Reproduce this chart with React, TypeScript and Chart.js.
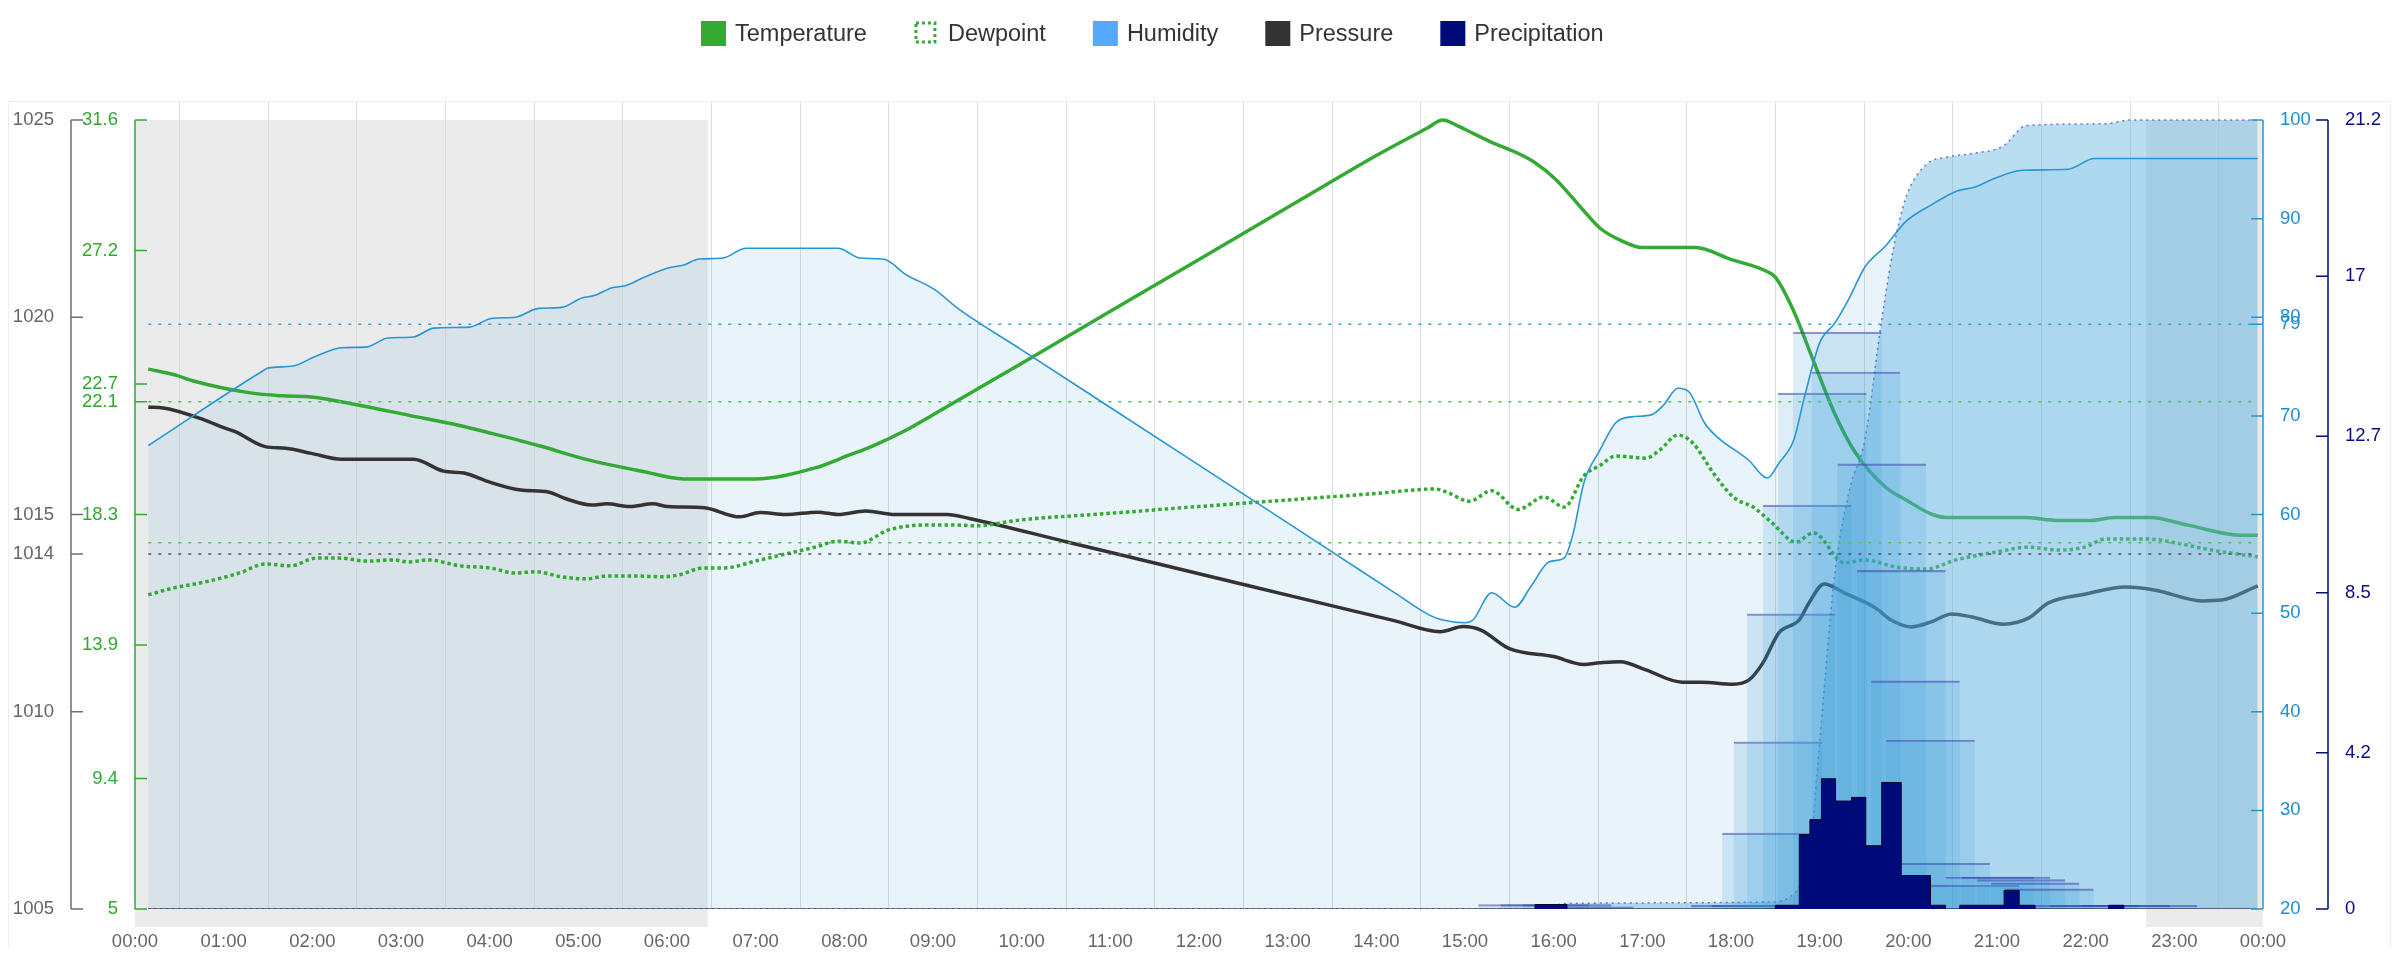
import { useEffect, useRef } from "react"
import { Chart, registerables } from "chart.js"

Chart.register(...registerables)

const FONT = '"Liberation Sans", Arial, Helvetica, sans-serif'
Chart.defaults.font.family = FONT

// every series is [hour of day, value]
const temperature = [
  [0.15, 23.2], [0.46, 23.0], [0.66, 22.8], [1.3, 22.4], [1.67, 22.3], [1.99, 22.26], [2.5, 22.0],
  [3.08, 21.65], [3.66, 21.3], [4.0, 21.05], [4.58, 20.6], [5.1, 20.15], [5.73, 19.75], [6.19, 19.5],
  [6.99, 19.5], [7.67, 19.87], [8.05, 20.3], [8.31, 20.6], [8.7, 21.15], [9.02, 21.7], [10.06, 23.5],
  [11.0, 25.15], [12.0, 26.9], [13.14, 28.9], [14.01, 30.42], [14.57, 31.32], [14.75, 31.6], [14.9, 31.43],
  [15.09, 31.15], [15.32, 30.82], [15.58, 30.5], [15.77, 30.2], [16.03, 29.58], [16.33, 28.57], [16.52, 27.96],
  [16.75, 27.55], [17.0, 27.3], [17.6, 27.3], [18.0, 26.9], [18.4, 26.5], [18.5, 26.3], [18.7, 25.2],
  [18.94, 23.4], [19.17, 21.7], [19.4, 20.4], [19.75, 19.2], [19.97, 18.8], [20.27, 18.3], [20.43, 18.2],
  [21.3, 18.2], [21.7, 18.1], [22.05, 18.1], [22.33, 18.2], [22.73, 18.2], [23.14, 17.95], [23.77, 17.6],
  [23.94, 17.6],
]

const dewpoint = [
  [0.15, 15.59], [0.43, 15.82], [0.78, 16.02], [1.18, 16.33], [1.47, 16.63], [1.76, 16.57], [2.04, 16.83],
  [2.3, 16.83], [2.62, 16.73], [2.91, 16.77], [3.08, 16.7], [3.31, 16.77], [3.66, 16.57], [4.0, 16.5],
  [4.29, 16.33], [4.52, 16.37], [4.81, 16.2], [5.1, 16.13], [5.32, 16.23], [5.61, 16.23], [5.95, 16.2],
  [6.13, 16.26], [6.42, 16.5], [6.65, 16.5], [7.02, 16.75], [7.34, 16.97], [7.67, 17.2], [7.93, 17.4],
  [8.18, 17.34], [8.5, 17.78], [8.96, 17.95], [9.22, 17.95], [9.48, 17.92], [10.0, 18.12], [11.0, 18.34],
  [12.0, 18.57], [13.0, 18.79], [14.0, 19.01], [14.66, 19.16], [14.79, 19.06], [15.05, 18.75], [15.3, 19.1],
  [15.6, 18.47], [15.89, 18.89], [16.12, 18.55], [16.34, 19.6], [16.52, 19.95], [16.7, 20.27], [17.04, 20.2],
  [17.2, 20.48], [17.4, 20.98], [17.57, 20.71], [17.8, 19.7], [18.04, 18.85], [18.25, 18.55], [18.47, 18.0],
  [18.73, 17.37], [18.93, 17.68], [19.28, 16.67], [19.51, 16.77], [19.86, 16.53], [20.2, 16.46], [20.54, 16.77],
  [21.0, 17.04], [21.36, 17.2], [21.7, 17.1], [21.99, 17.2], [22.22, 17.47], [22.73, 17.47], [23.02, 17.34],
  [23.42, 17.1], [23.94, 16.87],
]

const pressure = [
  [0.15, 1017.72], [0.32, 1017.7], [0.78, 1017.4], [1.0, 1017.2], [1.13, 1017.1], [1.47, 1016.72],
  [1.7, 1016.68], [1.99, 1016.55], [2.33, 1016.4], [3.14, 1016.4], [3.48, 1016.1], [3.71, 1016.05],
  [4.0, 1015.82], [4.35, 1015.62], [4.66, 1015.57], [4.86, 1015.4], [5.15, 1015.24], [5.32, 1015.27],
  [5.58, 1015.2], [5.84, 1015.27], [6.01, 1015.2], [6.42, 1015.17], [6.82, 1014.94], [7.05, 1015.05],
  [7.34, 1015.0], [7.7, 1015.06], [7.93, 1015.0], [8.24, 1015.09], [8.57, 1015.0], [9.16, 1015.0],
  [9.41, 1014.9], [10.5, 1014.31], [12.0, 1013.5], [13.14, 1012.88], [14.2, 1012.31], [14.72, 1012.03],
  [14.98, 1012.16], [15.18, 1012.07], [15.5, 1011.6], [16.0, 1011.4], [16.34, 1011.2], [16.52, 1011.24],
  [16.75, 1011.27], [17.04, 1011.06], [17.45, 1010.75], [17.67, 1010.75], [18.02, 1010.7], [18.2, 1010.8],
  [18.36, 1011.24], [18.54, 1012.0], [18.77, 1012.33], [18.88, 1012.76], [19.05, 1013.24], [19.29, 1013.0],
  [19.63, 1012.63], [19.8, 1012.33], [20.03, 1012.15], [20.26, 1012.28], [20.49, 1012.48], [20.72, 1012.4],
  [21.07, 1012.22], [21.36, 1012.38], [21.58, 1012.76], [21.99, 1012.98], [22.45, 1013.16], [22.79, 1013.08],
  [23.31, 1012.81], [23.53, 1012.83], [23.94, 1013.19],
]

const humidity = [
  [0.15, 67.0], [1.45, 74.6], [1.5, 74.85], [1.78, 75.05], [2.02, 75.97], [2.33, 76.9], [2.62, 77.0],
  [2.85, 77.9], [3.14, 78.0], [3.37, 78.9], [3.77, 79.0], [4.03, 79.9], [4.29, 80.0], [4.55, 80.9],
  [4.81, 81.0], [5.04, 81.95], [5.18, 82.2], [5.38, 83.0], [5.53, 83.2], [5.73, 84.0], [6.01, 85.0],
  [6.19, 85.3], [6.36, 85.9], [6.63, 86.0], [6.89, 87.0], [7.93, 87.0], [8.18, 86.0], [8.44, 85.9],
  [8.7, 84.3], [9.02, 82.8], [9.28, 80.9], [10.0, 76.7], [11.0, 70.85], [12.0, 65.0], [13.0, 59.15],
  [13.63, 55.45], [14.2, 52.1], [14.6, 49.8], [14.75, 49.3], [15.0, 49.03], [15.09, 49.3], [15.3, 52.07],
  [15.56, 50.6], [15.75, 52.8], [15.95, 55.2], [16.12, 55.6], [16.22, 58.1], [16.34, 63.2], [16.52, 66.5],
  [16.7, 69.3], [16.87, 69.9], [17.1, 70.1], [17.24, 71.1], [17.4, 72.8], [17.53, 72.4], [17.7, 69.3],
  [17.84, 67.9], [18.2, 65.5], [18.41, 63.7], [18.54, 65.2], [18.71, 67.6], [18.82, 71.6], [19.0, 77.4],
  [19.17, 79.4], [19.34, 82.05], [19.51, 85.1], [19.75, 87.3], [19.97, 89.7], [20.26, 91.4], [20.55, 92.8],
  [20.75, 93.2], [20.95, 94.0], [21.29, 94.9], [21.8, 95.0], [22.1, 96.1], [23.94, 96.1],
]

// rain per interval, each value holds until the next time
const precipitation = [
  [0.15, 0], [15.79, 0.12], [16.15, 0], [18.5, 0.1], [18.77, 2.0], [18.89, 2.4], [19.02, 3.5],
  [19.18, 2.9], [19.36, 3.0], [19.52, 1.7], [19.7, 3.4], [19.92, 0.9], [20.25, 0.1], [20.42, 0],
  [20.58, 0.1], [20.75, 0.1], [20.92, 0.1], [21.08, 0.5], [21.25, 0.1], [21.43, 0], [22.26, 0.1],
  [22.43, 0], [23.94, 0],
]

const precipitationTotal = [
  [0.15, 0], [15.8, 0], [16.15, 0.15], [18.47, 0.19], [18.65, 0.3], [18.77, 0.6], [18.88, 1.3],
  [19.0, 4.5], [19.17, 9.0], [19.34, 11.3], [19.51, 12.6], [19.68, 15.5], [19.82, 17.6], [19.97, 19.1],
  [20.2, 20.0], [20.43, 20.2], [20.72, 20.3], [21.07, 20.5], [21.33, 21.05], [22.22, 21.1], [22.5, 21.2],
  [23.94, 21.2],
]

// rain over the hour starting at the given time
const precipitationHour = [
  [15.15, 0.12], [15.4, 0.12], [15.65, 0.12], [15.9, 0.06], [17.55, 0.1], [17.78, 0.1], [17.9, 2.04],
  [18.03, 4.49], [18.18, 7.93], [18.36, 10.85], [18.53, 13.86], [18.7, 15.5], [18.91, 14.43], [19.2, 11.96],
  [19.42, 9.1], [19.58, 6.13], [19.75, 4.54], [19.92, 1.23], [20.25, 0.64], [20.42, 0.86], [20.6, 0.86],
  [20.77, 0.79], [20.93, 0.7], [21.09, 0.54], [21.26, 0.1], [21.6, 0.1], [21.95, 0.1], [22.26, 0.1],
]

const nightStart = [0, 22.68]
const nightEnd = [6.46, 24]

const temperatureMean = 22.1
const dewpointMean = 17.35
const pressureMean = 1014
const humidityMean = 79.3

const temperatureTicks = [5, 9.4, 13.9, 18.3, 22.7, 27.2, 31.6]
const pressureTicks = [1005, 1010, 1015, 1020, 1025]
const humidityTicks = [20, 30, 40, 50, 60, 70, 80, 90, 100]
const precipitationTicks = [0, 4.2, 8.5, 12.7, 17, 21.2]
const hourTicks = Array.from({ length: 25 }, (_, i) => i)

const legendLabels = ["Temperature", "Dewpoint", "Humidity", "Pressure", "Precipitation"]

const GREEN = "#33aa33"
const HUMID = "#2896d2"
const NAVY = "#000a78"
const HEADROOM = 18 / 789

const toPoints = (rows: number[][]) => rows.map(([x, y]) => ({ x, y }))
const span = (rows: number[][], y: number) => [
  { x: rows[0][0], y },
  { x: rows[rows.length - 1][0], y },
]

function valueAxis(o: any) {
  const all = [...o.ticks, ...(o.extra || [])].sort((a, b) => a - b)
  const lo = o.ticks[0]
  const hi = o.ticks[o.ticks.length - 1]
  return {
    type: "linear",
    position: o.position,
    weight: o.weight,
    bounds: "data",
    min: lo,
    max: hi + (hi - lo) * HEADROOM,
    afterFit: (s: any) => {
      s.width = o.width
    },
    afterBuildTicks: (s: any) => {
      s.ticks = all.map((value) => ({ value }))
    },
    grid: { display: false },
    border: { display: false },
    ticks: {
      autoSkip: false,
      color: o.color,
      padding: 9,
      font: { size: 18.5 },
      callback: o.format || ((v: number) => String(v)),
    },
  }
}

// grey night bands and the faint frame, under everything
const nightPlugin = {
  id: "night",
  beforeDraw(chart: any) {
    const { ctx, chartArea, scales } = chart
    const top = scales.temp.getPixelForValue(temperatureTicks[temperatureTicks.length - 1])
    const bottom = chartArea.bottom + 18
    ctx.save()
    ctx.strokeStyle = "#efefef"
    ctx.lineWidth = 1
    ctx.strokeRect(0.5, chartArea.top - 0.5, chart.width - 2, chart.height)
    ctx.fillStyle = "#ebebeb"
    nightStart.forEach((s, i) => {
      const x0 = scales.x.getPixelForValue(s)
      const x1 = scales.x.getPixelForValue(nightEnd[i])
      ctx.fillRect(x0, top, x1 - x0, bottom - top)
    })
    ctx.restore()
  },
}

// axis lines with inside tick marks
const axisStyles = [
  { id: "pressure", color: "#6e6e6e", dir: 1 },
  { id: "temp", color: GREEN, dir: 1 },
  { id: "humidity", color: HUMID, dir: -1 },
  { id: "precip", color: NAVY, dir: -1 },
]

const axisPlugin = {
  id: "axisLines",
  afterDatasetsDraw(chart: any) {
    const { ctx } = chart
    ctx.save()
    ctx.lineWidth = 1.5
    axisStyles.forEach((a) => {
      const s = chart.scales[a.id]
      const x = a.dir > 0 ? s.right : s.left
      const ys = s.ticks.map((t: any) => s.getPixelForValue(t.value))
      ctx.strokeStyle = a.color
      ctx.beginPath()
      ctx.moveTo(x, Math.min(...ys))
      ctx.lineTo(x, Math.max(...ys))
      ys.forEach((y: number) => {
        ctx.moveTo(x, y)
        ctx.lineTo(x + a.dir * 12, y)
      })
      ctx.stroke()
    })
    ctx.restore()
  },
}

const legendSwatches = [
  { fill: GREEN },
  { stroke: GREEN },
  { fill: "#55aaff" },
  { fill: "#333333" },
  { fill: NAVY },
]

const legendPlugin = {
  id: "topLegend",
  afterDraw(chart: any) {
    const { ctx } = chart
    const box = 25
    const gap = 9
    const spacing = 47
    ctx.save()
    ctx.font = `23.5px ${FONT}`
    ctx.textBaseline = "middle"
    const widths = legendLabels.map((t) => box + gap + ctx.measureText(t).width)
    const total = widths.reduce((a, b) => a + b, 0) + spacing * (widths.length - 1)
    let x = chart.width * 0.48 - total / 2
    const cy = 25.5
    legendLabels.forEach((text, i) => {
      const sw: any = legendSwatches[i]
      if (sw.fill) {
        ctx.fillStyle = sw.fill
        ctx.fillRect(x, cy - box / 2, box, box)
      } else {
        ctx.strokeStyle = sw.stroke
        ctx.lineWidth = 3
        ctx.setLineDash([3, 3])
        ctx.strokeRect(x + 2, cy - box / 2 + 2, 19, 19)
        ctx.setLineDash([])
      }
      ctx.fillStyle = "#333333"
      ctx.fillText(text, x + box + gap, cy + 1)
      x += widths[i] + spacing
    })
    ctx.restore()
  },
}

const line = {
  type: "line",
  pointRadius: 0,
  pointHoverRadius: 0,
  fill: false,
  cubicInterpolationMode: "monotone",
}

const meanLine = {
  type: "line",
  pointRadius: 0,
  fill: false,
  tension: 0,
  borderWidth: 1.5,
  borderDash: [3, 7],
  order: 3,
}

export default function App() {
  const chartRef = useRef<HTMLCanvasElement>(null)

  useEffect(() => {
    if (!chartRef.current) return

    const chart = new Chart(chartRef.current, {
      type: "line",
      data: {
        datasets: [
          {
            ...line,
            label: "Humidity area",
            data: toPoints(humidity),
            yAxisID: "humidity",
            fill: "start",
            backgroundColor: "rgba(108,175,222,0.15)",
            borderWidth: 0,
            order: 10,
          },
          {
            ...line,
            label: "Pressure",
            data: toPoints(pressure),
            yAxisID: "pressure",
            borderColor: "#333333",
            borderWidth: 3.5,
            order: 9,
          },
          {
            ...line,
            label: "Dewpoint",
            data: toPoints(dewpoint),
            yAxisID: "temp",
            borderColor: GREEN,
            borderWidth: 3.5,
            borderDash: [3.5, 3],
            order: 8,
          },
          {
            ...line,
            label: "Temperature",
            data: toPoints(temperature),
            yAxisID: "temp",
            borderColor: GREEN,
            borderWidth: 3.5,
            order: 7,
          },
          {
            ...line,
            label: "Precipitation total",
            data: toPoints(precipitationTotal),
            yAxisID: "precip",
            fill: "origin",
            backgroundColor: "rgba(100,180,225,0.45)",
            borderColor: "rgba(90,90,190,0.85)",
            borderWidth: 1.5,
            borderDash: [2, 4],
            order: 5,
          },
          {
            type: "bar",
            label: "Precipitation last hour",
            data: precipitationHour.map(([h, v]) => ({ x: h + 0.5, y: v })),
            yAxisID: "precip",
            grouped: false,
            backgroundColor: "rgba(55,155,215,0.17)",
            borderColor: "rgba(60,60,170,0.55)",
            borderWidth: { top: 1.5, right: 0, bottom: 0, left: 0 },
            barThickness: (c: any) => c.chart.scales.x.getPixelForValue(1) - c.chart.scales.x.getPixelForValue(0),
            order: 4,
          },
          { ...meanLine, label: "mean t", data: span(temperature, temperatureMean), yAxisID: "temp", borderColor: "#55c155" },
          { ...meanLine, label: "mean td", data: span(dewpoint, dewpointMean), yAxisID: "temp", borderColor: "#55c155" },
          { ...meanLine, label: "mean p", data: span(pressure, pressureMean), yAxisID: "pressure", borderColor: "#555555" },
          { ...meanLine, label: "mean rh", data: span(humidity, humidityMean), yAxisID: "humidity", borderColor: "#33a4e0" },
          {
            ...line,
            label: "Humidity",
            data: toPoints(humidity),
            yAxisID: "humidity",
            borderColor: HUMID,
            borderWidth: 1.6,
            order: 2,
          },
          {
            ...line,
            label: "Precipitation",
            data: toPoints(precipitation),
            yAxisID: "precip",
            stepped: true,
            cubicInterpolationMode: "default",
            tension: 0,
            fill: "origin",
            backgroundColor: NAVY,
            borderColor: "#05052e",
            borderWidth: 1,
            order: 1,
          },
        ] as any,
      },
      options: {
        animation: false,
        responsive: false,
        layout: { padding: { top: 94, left: 0, right: 0, bottom: 0 } },
        plugins: {
          legend: { display: false },
          tooltip: { enabled: false },
        },
        scales: {
          x: {
            type: "linear",
            min: 0,
            max: 24,
            offset: false,
            afterFit: (s: any) => {
              s.height = 39
            },
            afterBuildTicks: (s: any) => {
              s.ticks = hourTicks.map((value) => ({ value }))
            },
            ticks: {
              autoSkip: false,
              maxRotation: 0,
              color: "#666666",
              padding: 22,
              font: { size: 18.5 },
              callback: (v: any) => `${String(v % 24).padStart(2, "0")}:00`,
            },
            grid: { color: "#dcdcdc", drawTicks: false },
            border: { display: false },
          },
          pressure: valueAxis({ position: "left", weight: 1, width: 63, ticks: pressureTicks, extra: [pressureMean], color: "#666666" }),
          temp: valueAxis({ position: "left", weight: 0, width: 64, ticks: temperatureTicks, extra: [temperatureMean], color: "#2fa82f" }),
          humidity: valueAxis({
            position: "right",
            weight: 0,
            width: 65,
            ticks: humidityTicks,
            extra: [humidityMean],
            color: "#1c8ed1",
            format: (v: number) => String(Math.round(v)),
          }),
          precip: valueAxis({ position: "right", weight: 1, width: 64, ticks: precipitationTicks, color: "#0b0b80" }),
        } as any,
      },
      plugins: [nightPlugin, axisPlugin, legendPlugin],
    } as any)

    return () => {
      chart.destroy()
    }
  }, [])

  return (
    <div style={{ width: 2384, height: 940 }}>
      <canvas ref={chartRef} width={2384} height={940} style={{ display: "block" }} />
    </div>
  )
}
